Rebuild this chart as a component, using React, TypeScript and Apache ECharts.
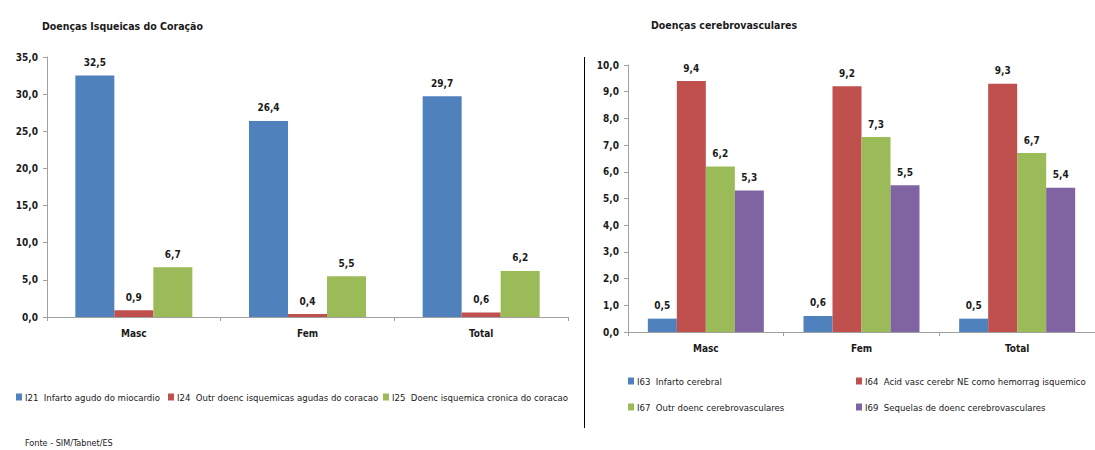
import React, { useEffect, useRef } from "react";
import * as echarts from "echarts";

const categories = ["Masc", "Fem", "Total"];

const heartSeriesNames = [
  "I21  Infarto agudo do miocardio",
  "I24  Outr doenc isquemicas agudas do coracao",
  "I25  Doenc isquemica cronica do coracao",
];
const heartI21 = [32.5, 26.4, 29.7];
const heartI24 = [0.9, 0.4, 0.6];
const heartI25 = [6.7, 5.5, 6.2];

const cerebroSeriesNames = [
  "I63  Infarto cerebral",
  "I64  Acid vasc cerebr NE como hemorrag isquemico",
  "I67  Outr doenc cerebrovasculares",
  "I69  Sequelas de doenc cerebrovasculares",
];
const cerebroI63 = [0.5, 0.6, 0.5];
const cerebroI64 = [9.4, 9.2, 9.3];
const cerebroI67 = [6.2, 7.3, 6.7];
const cerebroI69 = [5.3, 5.5, 5.4];

const leftTitle = "Doenças Isqueicas do Coração";
const rightTitle = "Doenças cerebrovasculares";
const sourceNote = "Fonte - SIM/Tabnet/ES";

const COLORS = ["#4F81BD", "#C0504D", "#9BBB59", "#8064A2"];
const FONT = "'DejaVu Sans Condensed', 'Liberation Sans Narrow', 'Open Sans', sans-serif";
const TEXT = "#1a1a1a";

const fmt = (v: number) => v.toFixed(1).replace(".", ",");

export default function App() {
  const ref = useRef<HTMLDivElement>(null);
  useEffect(() => {
    if (!ref.current) return;
    const chart = echarts.init(ref.current, null, { renderer: "svg" });

    const labelCfg = {
      show: true,
      position: "top",
      distance: 8,
      fontFamily: FONT,
      fontSize: 10,
      fontWeight: "bold",
      color: TEXT,
      formatter: (p: any) => fmt(p.value),
    };

    const heartData = [heartI21, heartI24, heartI25];
    const cerebroData = [cerebroI63, cerebroI64, cerebroI67, cerebroI69];

    const series: any[] = [];
    heartData.forEach((d, i) => {
      series.push({
        type: "bar",
        name: heartSeriesNames[i],
        xAxisIndex: 0,
        yAxisIndex: 0,
        data: d,
        barWidth: 39,
        barGap: "0%",
        itemStyle: { color: COLORS[i] },
        label: labelCfg,
      });
    });
    cerebroData.forEach((d, i) => {
      series.push({
        type: "bar",
        name: cerebroSeriesNames[i],
        xAxisIndex: 1,
        yAxisIndex: 1,
        data: d,
        barWidth: 29,
        barGap: "0%",
        itemStyle: { color: COLORS[i] },
        label: labelCfg,
      });
    });

    const axisLine = { show: true, lineStyle: { color: "#A0A0A0", width: 1 } };
    const axisLabelBase = {
      fontFamily: FONT,
      fontSize: 10,
      fontWeight: "bold",
      color: TEXT,
    };

    const legendItem = (name: string, left: number, top: number) => ({
      data: [name],
      left,
      top,
      orient: "horizontal",
      itemWidth: 6,
      itemHeight: 7,
      icon: "rect",
      selectedMode: false,
      padding: 0,
      textStyle: { fontFamily: FONT, fontSize: 9.5, color: TEXT, padding: [0, 0, 0, -2] },
    });

    chart.setOption({
      animation: false,
      backgroundColor: "#ffffff",
      title: [
        {
          text: leftTitle,
          left: 42,
          top: 20,
          padding: 0,
          textStyle: { fontFamily: FONT, fontSize: 10.5, fontWeight: "bold", color: TEXT },
        },
        {
          text: rightTitle,
          left: 651,
          top: 19,
          padding: 0,
          textStyle: { fontFamily: FONT, fontSize: 10.5, fontWeight: "bold", color: TEXT },
        },
      ],
      legend: [
        legendItem(heartSeriesNames[0], 16, 392),
        legendItem(heartSeriesNames[1], 168, 392),
        legendItem(heartSeriesNames[2], 383, 392),
        legendItem(cerebroSeriesNames[0], 628, 376),
        legendItem(cerebroSeriesNames[1], 856, 376),
        legendItem(cerebroSeriesNames[2], 628, 402),
        legendItem(cerebroSeriesNames[3], 856, 402),
      ],
      grid: [
        { left: 47, top: 57, width: 521, height: 260, containLabel: false },
        { left: 628, top: 65, width: 474, height: 267, containLabel: false },
      ],
      xAxis: [
        {
          type: "category",
          gridIndex: 0,
          data: categories,
          axisLine,
          axisTick: { show: true, length: 4, lineStyle: { color: "#A0A0A0" } },
          axisLabel: { ...axisLabelBase, margin: 11 },
        },
        {
          type: "category",
          gridIndex: 1,
          data: categories,
          axisLine,
          axisTick: { show: true, length: 4, lineStyle: { color: "#A0A0A0" } },
          axisLabel: { ...axisLabelBase, margin: 11 },
        },
      ],
      yAxis: [
        {
          type: "value",
          gridIndex: 0,
          min: 0,
          max: 35,
          interval: 5,
          axisLine,
          axisTick: { show: true, length: 4, lineStyle: { color: "#A0A0A0" } },
          splitLine: { show: false },
          axisLabel: { ...axisLabelBase, margin: 9, formatter: (v: number) => fmt(v) },
        },
        {
          type: "value",
          gridIndex: 1,
          min: 0,
          max: 10,
          interval: 1,
          axisLine,
          axisTick: { show: true, length: 4, lineStyle: { color: "#A0A0A0" } },
          splitLine: { show: false },
          axisLabel: { ...axisLabelBase, margin: 9, formatter: (v: number) => fmt(v) },
        },
      ],
      graphic: [
        {
          type: "line",
          shape: { x1: 584.5, y1: 57, x2: 584.5, y2: 428 },
          style: { stroke: "#000000", lineWidth: 1 },
        },
        {
          type: "text",
          left: 25,
          top: 438,
          style: { text: sourceNote, fontFamily: FONT, fontSize: 9, fill: TEXT },
        },
      ],
      series,
    });

    return () => chart.dispose();
  }, []);

  return (
    <div
      ref={ref}
      style={{ position: "fixed", left: 0, top: 0, width: 1095, height: 450 }}
    />
  );
}
